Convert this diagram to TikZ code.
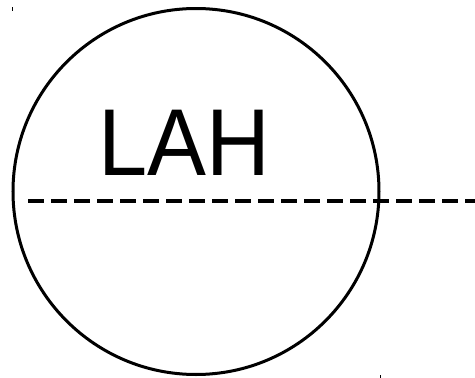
\documentclass[tikz,border=0pt]{standalone}
\usepackage{fontspec}
\setmainfont{Liberation Sans}
\tikzset{
  ring/.style={draw=black, line width=3pt, circle, minimum size=366pt, inner sep=0pt},
  axis/.style={draw=black, line width=4pt, dash pattern=on 16pt off 7pt},
  label/.style={font=\fontsize{95}{95}\selectfont, inner sep=0pt, anchor=base, xscale=0.93},
  tick/.style={draw=black, line width=1pt}
}
\begin{document}
\begin{tikzpicture}[x=1pt,y=-1pt]
\useasboundingbox (0,0) rectangle (475,378);
\node[ring] (c) at (196,191.5) {};
\coordinate (s) at (28,201);
\coordinate (e) at (475,201);
\draw[axis] (s) -- (e);
\node[label] (t) at (184,175) {LAH};
\coordinate (m1a) at (12,7); \coordinate (m1b) at (12,11);
\draw[tick] (m1a) -- (m1b);
\coordinate (m2a) at (380,375); \coordinate (m2b) at (380,378);
\draw[tick] (m2a) -- (m2b);
\end{tikzpicture}
\end{document}
